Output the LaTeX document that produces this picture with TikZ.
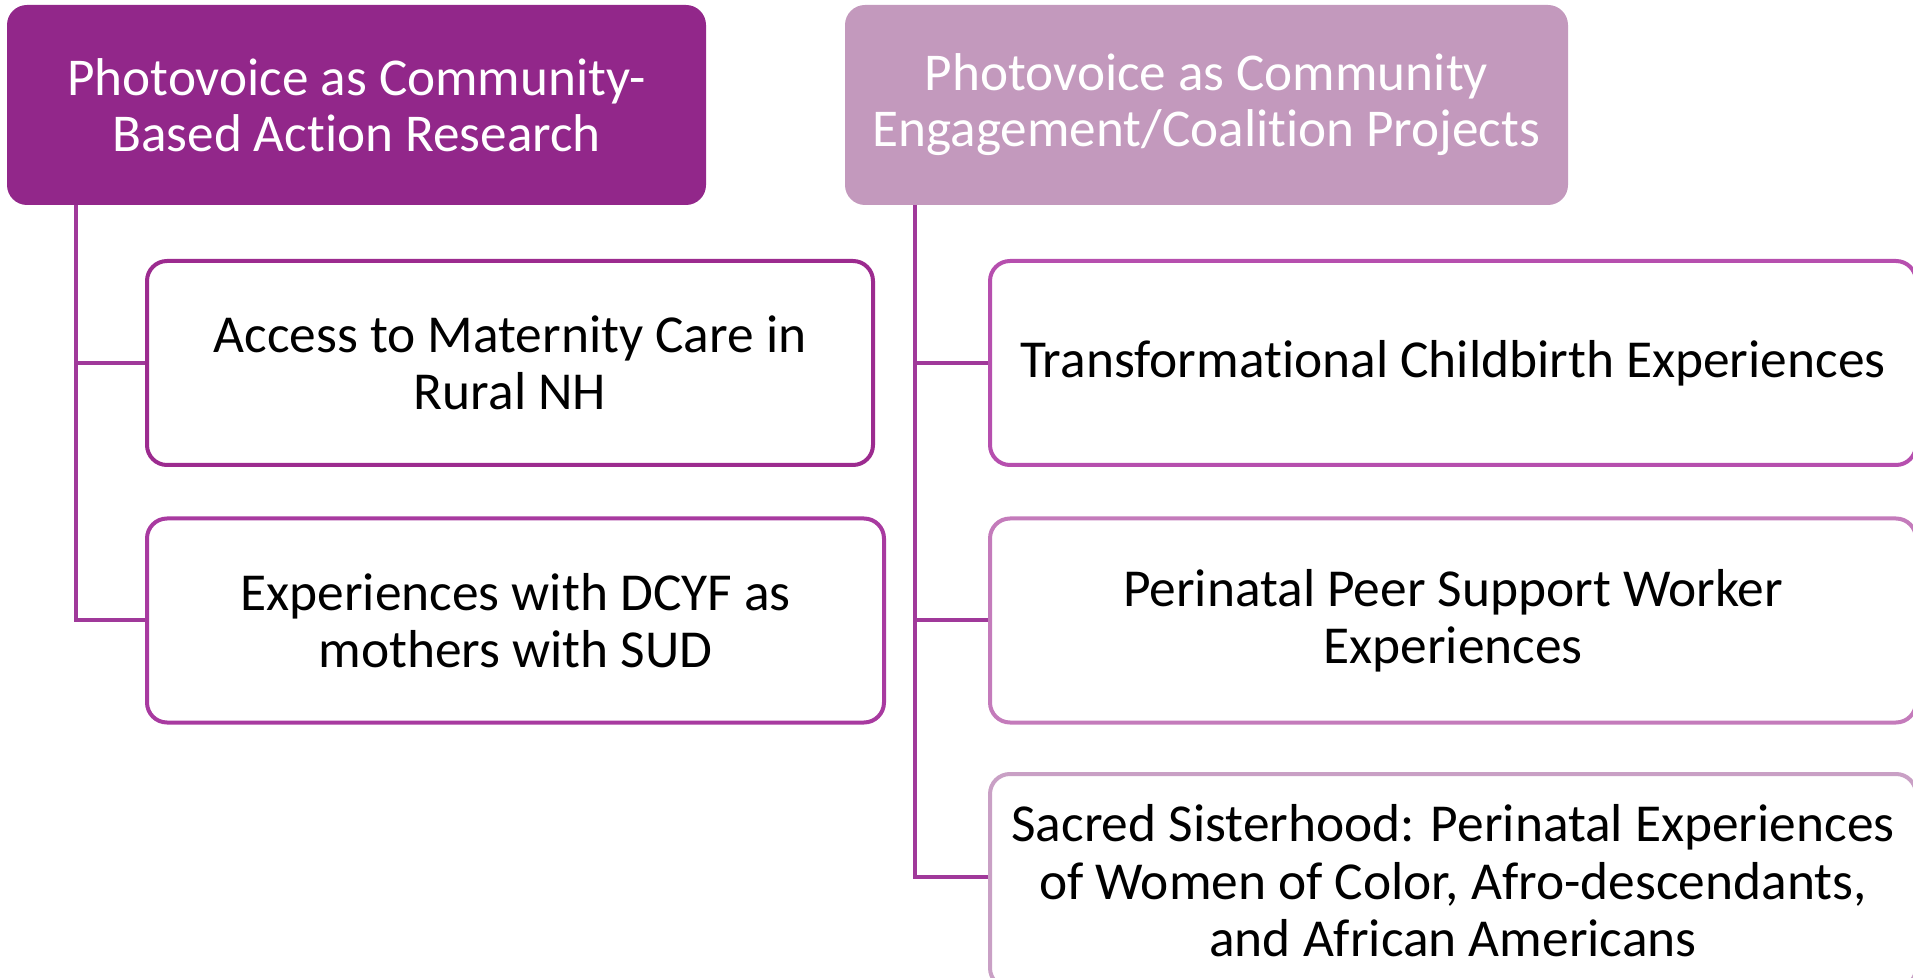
\documentclass[tikz,border=0pt]{standalone}
\usepackage{fontspec}
\setmainfont{Carlito}[Ligatures={NoCommon}]
\definecolor{hdA}{HTML}{92278A}
\definecolor{hdB}{HTML}{C399BD}
\definecolor{bA}{HTML}{9C2B8F}
\definecolor{bB}{HTML}{A83AA0}
\definecolor{bC}{HTML}{B64FAE}
\definecolor{bD}{HTML}{C47BBB}
\definecolor{bE}{HTML}{C9A0C5}
\definecolor{conn}{HTML}{A0399A}
\tikzset{
  header/.style={rounded corners=10pt, inner sep=0pt, align=center, text=white,
    font=\fontsize{26.6}{28}\selectfont, minimum height=100pt},
  child/.style={draw, fill=white, line width=2pt, rounded corners=10pt, inner sep=0pt,
    align=center, text=black, font=\fontsize{26.7}{28.7}\selectfont, minimum height=102pt},
  link/.style={draw=conn, line width=2pt}
}
\begin{document}
\begin{tikzpicture}[x=0.5pt,y=-0.5pt]
\useasboundingbox (0,0) rectangle (1913,978);
\node[header, fill=hdA, minimum width=349.5pt] (lh) at (356.5,105)
  {Photovoice as Community-\\Based Action Research};
\node[header, fill=hdB, minimum width=361.5pt] (rh) at (1206.5,105)
  {Photovoice as Community\\Engagement/Coalition Projects};
\node[child, draw=bA, minimum width=363pt] (lc1) at (510,363)
  {Access to Maternity Care in\\Rural NH};
\node[child, draw=bB, minimum width=368.5pt] (lc2) at (515.5,620.5)
  {Experiences with DCYF as\\mothers with SUD};
\node[child, draw=bC, minimum width=463pt] (rc1) at (1453,363)
  {Transformational Childbirth Experiences};
\node[child, draw=bD, minimum width=463pt] (rc2) at (1453,620.5)
  {Perinatal Peer Support Worker\\Experiences};
\node[child, draw=bE, minimum width=463pt, minimum height=107pt] (rc3) at (1453,881)
  {Sacred Sisterhood: Perinatal Experiences\\of Women of Color, Afro-descendants,\\and African Americans};
\draw[link] ([xshift=34.5pt]lh.south west) |- (lc1.west);
\draw[link] ([xshift=34.5pt]lh.south west) |- (lc2.west);
\draw[link] ([xshift=35pt]rh.south west) |- (rc1.west);
\draw[link] ([xshift=35pt]rh.south west) |- (rc2.west);
\draw[link] ([xshift=35pt]rh.south west) |- ([yshift=2pt]rc3.west);
\end{tikzpicture}
\end{document}
